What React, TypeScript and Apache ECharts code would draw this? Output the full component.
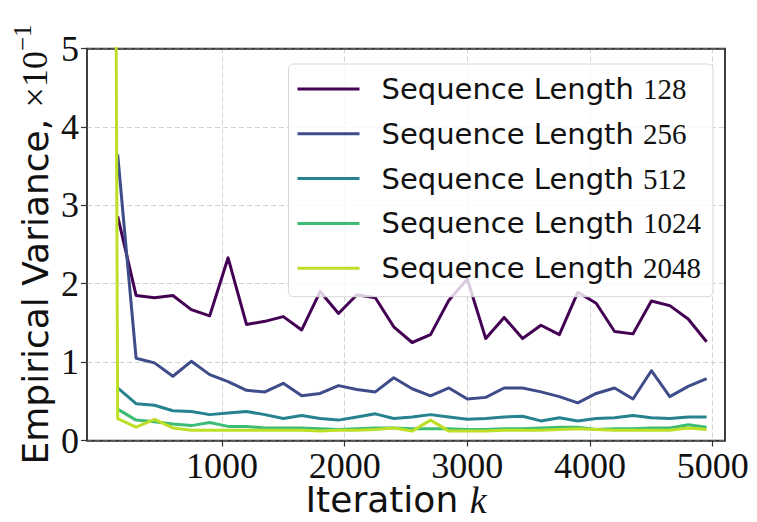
import React, { useEffect, useRef } from "react";
import * as echarts from "echarts";

// Iteration k at which each variance was measured
const iterations = [
  150, 300, 450, 600, 750, 900, 1050, 1200, 1350, 1500, 1650,
  1800, 1950, 2100, 2250, 2400, 2550, 2700, 2850, 3000, 3150, 3300,
  3450, 3600, 3750, 3900, 4050, 4200, 4350, 4500, 4650, 4800, 4950,
];

const seqLengths = ["128", "256", "512", "1024", "2048"];

// Empirical variance (x 10^-1)
const var128 = [
  2.86, 1.85, 1.82, 1.85, 1.67, 1.59, 2.33, 1.48, 1.52, 1.58, 1.41,
  1.9, 1.62, 1.86, 1.82, 1.45, 1.25, 1.35, 1.79, 2.06, 1.3, 1.57,
  1.3, 1.47, 1.35, 1.89, 1.75, 1.39, 1.36, 1.78, 1.72, 1.55, 1.26,
];
const var256 = [
  3.65, 1.05, 0.99, 0.82, 1.01, 0.84, 0.75, 0.64, 0.62, 0.73, 0.57,
  0.6, 0.7, 0.65, 0.62, 0.8, 0.66, 0.57, 0.67, 0.53, 0.55, 0.67,
  0.67, 0.62, 0.56, 0.48, 0.6, 0.67, 0.53, 0.89, 0.56, 0.69, 0.79,
];
const var512 = [
  0.67, 0.47, 0.45, 0.38, 0.37, 0.33, 0.35, 0.37, 0.33, 0.28, 0.32,
  0.28, 0.26, 0.3, 0.34, 0.28, 0.3, 0.33, 0.3, 0.27, 0.28, 0.3,
  0.31, 0.25, 0.29, 0.25, 0.28, 0.29, 0.32, 0.29, 0.28, 0.3, 0.3,
];
const var1024 = [
  0.4, 0.26, 0.24, 0.21, 0.19, 0.23, 0.18, 0.18, 0.16, 0.16, 0.16,
  0.15, 0.14, 0.15, 0.16, 0.16, 0.15, 0.15, 0.15, 0.14, 0.14, 0.15,
  0.15, 0.16, 0.17, 0.17, 0.14, 0.15, 0.15, 0.16, 0.16, 0.2, 0.17,
];
const var2048 = [
  0.28, 0.17, 0.27, 0.16, 0.13, 0.13, 0.13, 0.13, 0.13, 0.13, 0.13,
  0.12, 0.13, 0.13, 0.14, 0.16, 0.12, 0.26, 0.12, 0.12, 0.12, 0.13,
  0.13, 0.13, 0.14, 0.15, 0.14, 0.13, 0.13, 0.13, 0.13, 0.16, 0.14,
];
// the 2048 run also has a value at iteration 0, far above the axis
const initIteration2048 = [0];
const initVar2048 = [60];

const xTicks = [1000, 2000, 3000, 4000, 5000];
const yTicks = [0, 1, 2, 3, 4, 5];

const colors = ["#440154", "#3e4c8a", "#26828e", "#3dbc74", "#bddf26"];

const SERIF = "Liberation Serif";
const SANS = "DejaVu Sans";

export default function App() {
  const ref = useRef<HTMLDivElement>(null);

  useEffect(() => {
    if (!ref.current) return;
    const chart = echarts.init(ref.current, null, { renderer: "svg" });
    const allVals = [var128, var256, var512, var1024, var2048];

    const series = seqLengths.map((name, si) => {
      const pts: [number, number][] = iterations.map((x, i) => [x, allVals[si][i]]);
      if (name === "2048") {
        const pre: [number, number][] = initIteration2048.map((x, i) => [x, initVar2048[i]]);
        pts.unshift(...pre);
      }
      return {
        name,
        type: "line",
        xAxisIndex: 0,
        yAxisIndex: 0,
        data: pts,
        symbol: "none",
        showSymbol: false,
        clip: true,
        color: colors[si],
        lineStyle: { color: colors[si], width: 3, join: "round" },
        emphasis: { disabled: true },
      };
    });

    const axisColor = "#333";
    const gridLine = { show: true, lineStyle: { color: "#d2d2d2", width: 1, type: [5, 3] } };
    const spineOnly = {
      axisLine: { show: true, onZero: false, lineStyle: { color: axisColor, width: 1.5 } },
      axisTick: { show: false },
      axisLabel: { show: false },
      splitLine: { show: false },
    };

    chart.setOption({
      animation: false,
      grid: {
        left: 87,
        right: 32,
        top: 48.5,
        bottom: 81.5,
        show: true,
        borderColor: axisColor,
        borderWidth: 1.5,
        containLabel: false,
        outerBoundsMode: "none",
      },
      xAxis: [
        {
          type: "value",
          min: -100,
          max: 5100,
          axisLine: { show: true, onZero: false, lineStyle: { color: axisColor, width: 1.5 } },
          axisTick: { show: true, length: 6, customValues: xTicks, lineStyle: { color: axisColor, width: 1.2 } },
          axisLabel: {
            customValues: xTicks,
            formatter: (v: number) => String(v),
            fontFamily: SERIF,
            fontSize: 36,
            lineHeight: 30,
            color: "#111",
            margin: 10,
          },
          splitLine: gridLine,
          name: "{a|Iteration }{b|k}",
          nameLocation: "middle",
          nameGap: 40,
          nameMoveOverlap: false,
          nameTextStyle: {
            padding: [0, 20, 0, 0],
            rich: {
              a: { fontFamily: SANS, fontSize: 36, color: "#111" },
              b: { fontFamily: SERIF, fontStyle: "italic", fontSize: 38, color: "#111" },
            },
          },
        },
        { type: "value", position: "top", min: -100, max: 5100, ...spineOnly },
      ],
      yAxis: [
        {
          type: "value",
          min: 0,
          max: 5,
          interval: 1,
          axisLine: { show: true, onZero: false, lineStyle: { color: axisColor, width: 1.5 } },
          axisTick: { show: true, length: 6, customValues: yTicks, lineStyle: { color: axisColor, width: 1.2 } },
          axisLabel: {
            customValues: yTicks,
            formatter: (v: number) => String(v),
            fontFamily: SERIF,
            fontSize: 36,
            color: "#111",
            margin: 8,
          },
          splitLine: gridLine,
          name: "{a|Empirical Variance, }{b|×10}{c|−1}",
          nameLocation: "middle",
          nameRotate: 90,
          nameGap: 27,
          nameMoveOverlap: false,
          nameTextStyle: {
            rich: {
              a: { fontFamily: SANS, fontSize: 36, lineHeight: 50, color: "#111" },
              b: { fontFamily: SERIF, fontSize: 36, lineHeight: 50, color: "#111" },
              c: { fontFamily: SERIF, fontSize: 25, lineHeight: 25, verticalAlign: "top", color: "#111" },
            },
          },
        },
        { type: "value", position: "right", min: 0, max: 5, ...spineOnly },
      ],
      legend: {
        orient: "vertical",
        left: 288.5,
        top: 64,
        padding: [8, 12, 11.5, 9],
        icon: "rect",
        itemWidth: 62,
        itemHeight: 3,
        itemGap: 10.8,
        backgroundColor: "rgba(255,255,255,0.8)",
        borderColor: "#d8d8d8",
        borderWidth: 1,
        borderRadius: 5,
        data: seqLengths,
        formatter: (name: string) => `{a|Sequence Length} {b|${name}}`,
        textStyle: {
          padding: [0, 0, 0, 17],
          fontFamily: SANS,
          fontSize: 29,
          lineHeight: 34,
          color: "#111",
          rich: {
            a: { fontFamily: SANS, fontSize: 29, lineHeight: 34, color: "#111" },
            b: { fontFamily: SERIF, fontSize: 29, lineHeight: 34, color: "#111" },
          },
        },
      },
      series,
    });

    return () => chart.dispose();
  }, []);

  return (
    <div
      ref={ref}
      style={{ position: "fixed", left: 0, top: 0, width: 757, height: 522, background: "#fff" }}
    />
  );
}
